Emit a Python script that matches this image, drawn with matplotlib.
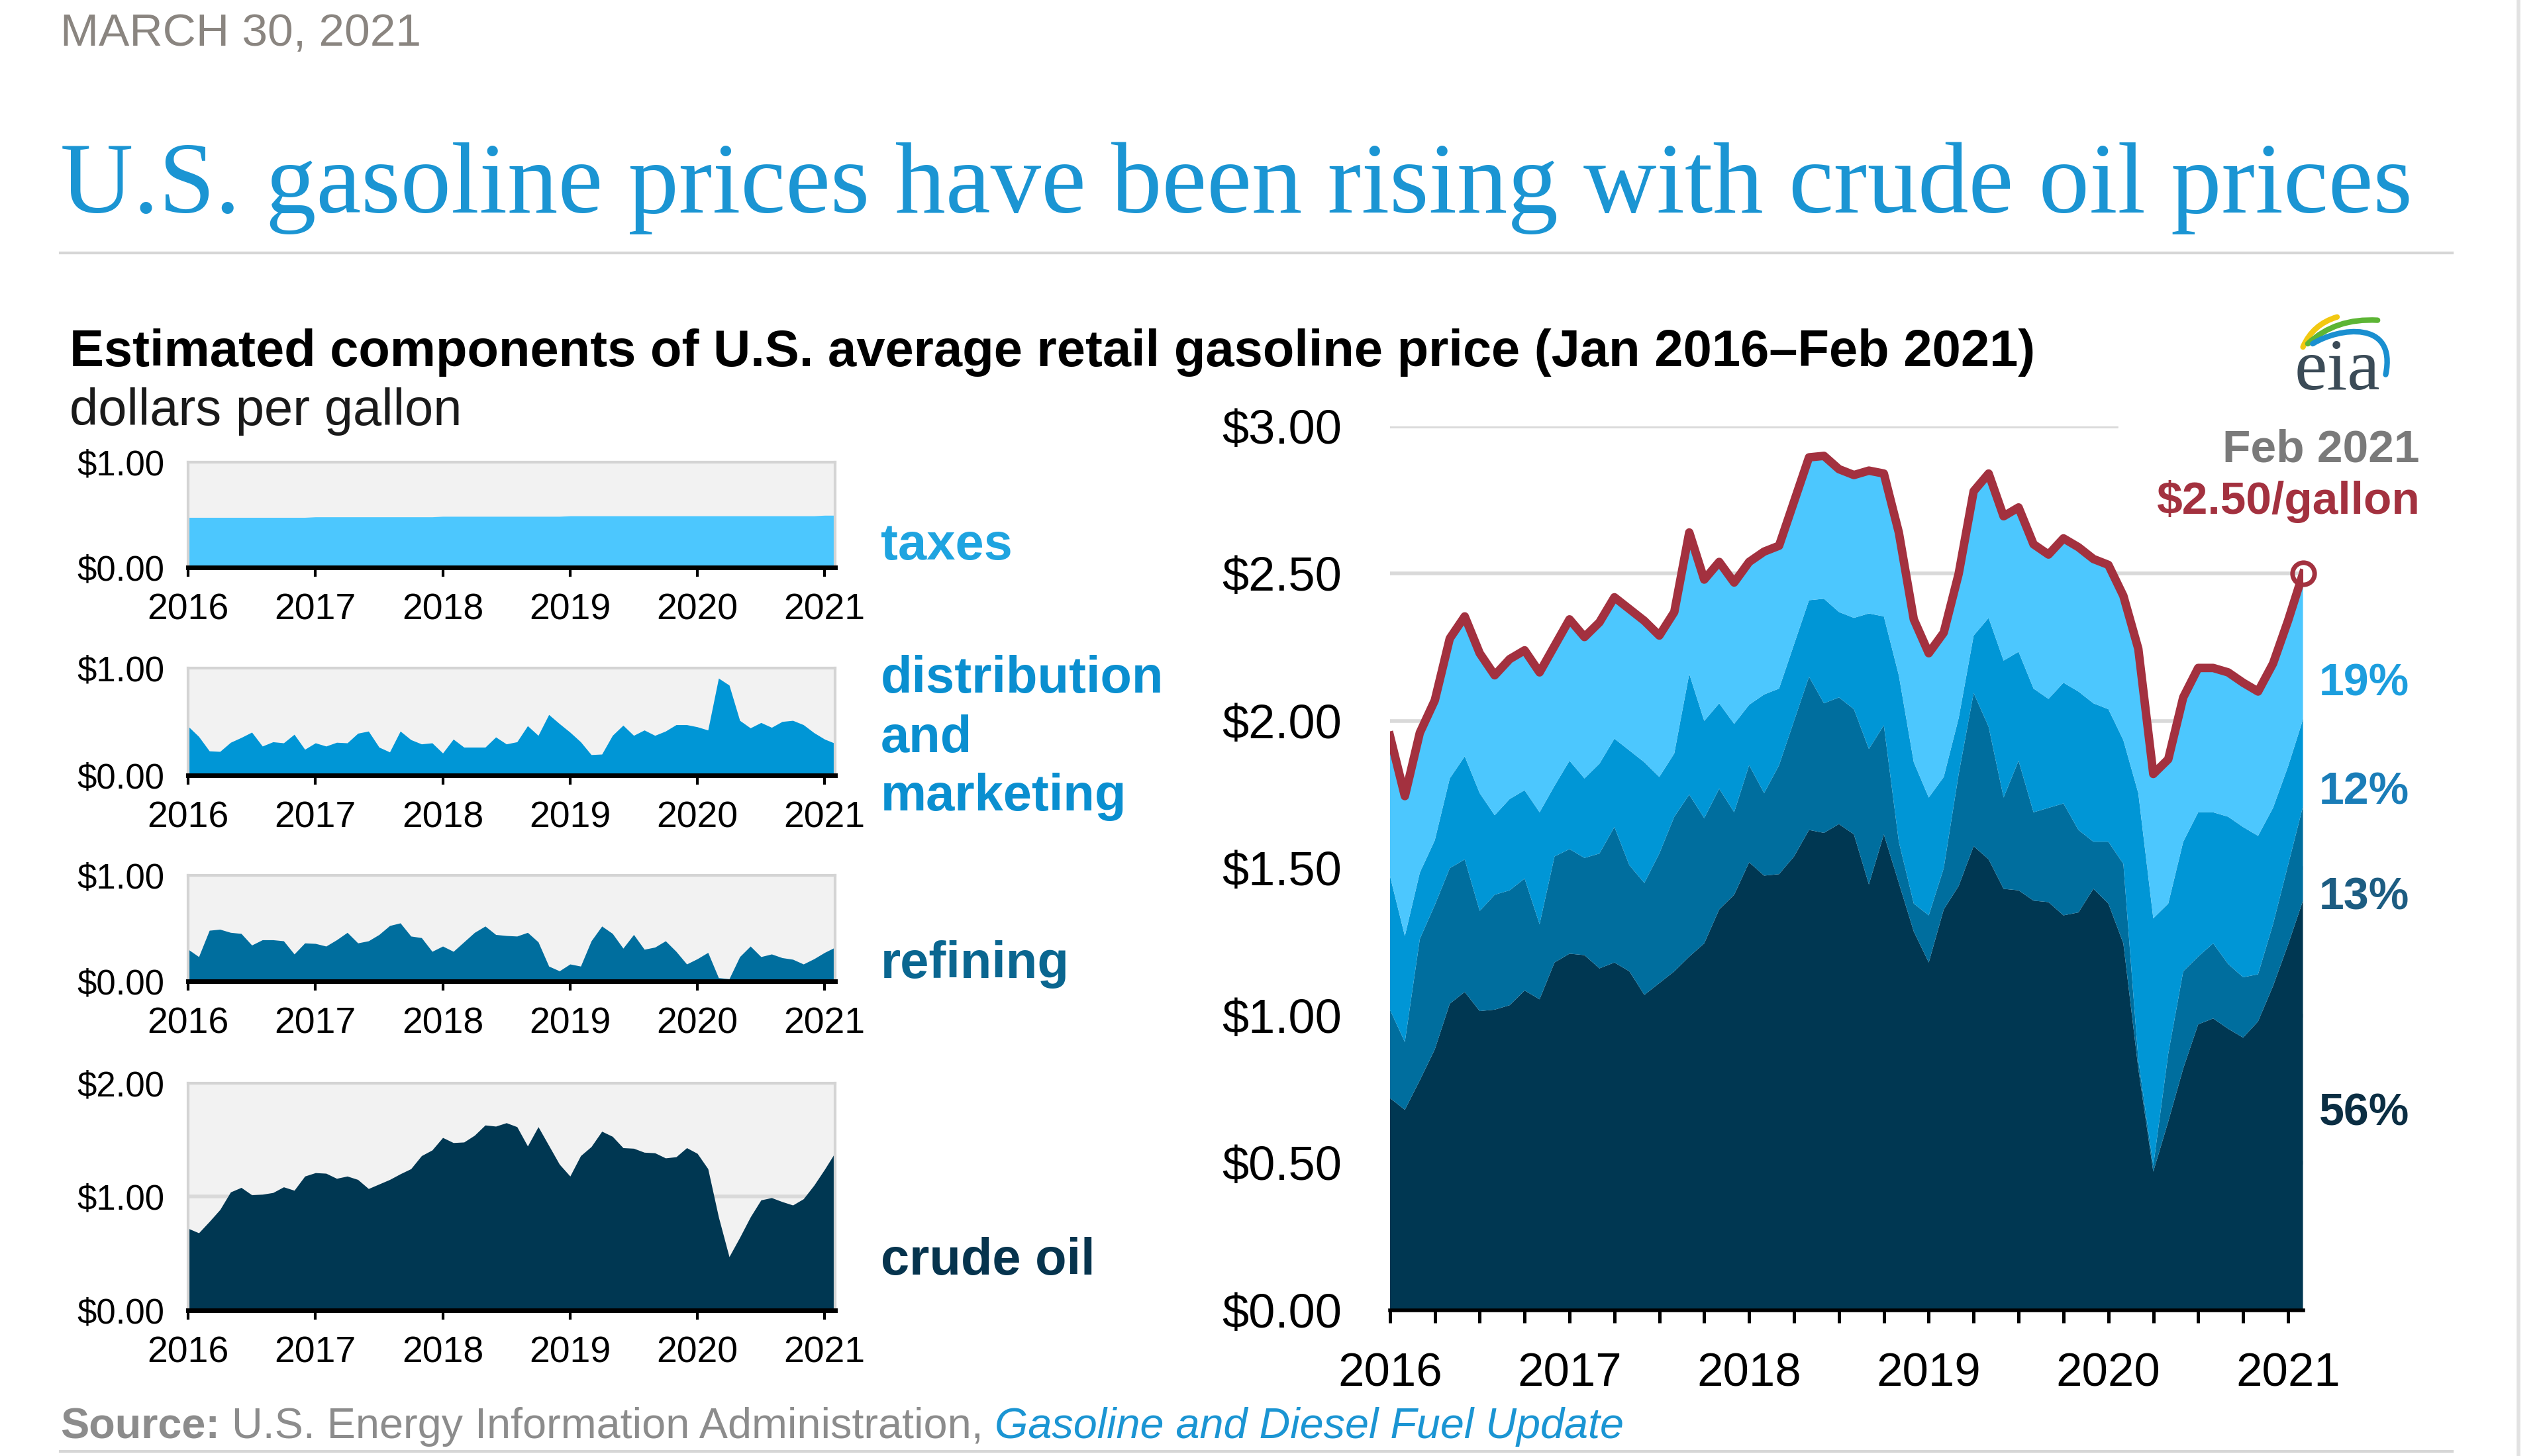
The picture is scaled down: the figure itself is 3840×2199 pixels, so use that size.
import numpy as np
import matplotlib.pyplot as plt
from matplotlib.path import Path
from matplotlib.patches import PathPatch

plt.rcParams['font.family'] = ['Liberation Sans', 'DejaVu Sans']
serif = ['Liberation Serif', 'DejaVu Serif']

# monthly components, Jan 2016 - Feb 2021 (dollars per gallon)
crude = [0.72, 0.68, 0.78, 0.885, 1.04, 1.08, 1.015, 1.02, 1.035, 1.085, 1.055, 1.18,
         1.21, 1.205, 1.16, 1.18, 1.15, 1.07, 1.11, 1.15, 1.20, 1.245, 1.36, 1.41,
         1.52, 1.475, 1.48, 1.54, 1.63, 1.62, 1.65, 1.615, 1.445, 1.615, 1.45, 1.285,
         1.18, 1.36, 1.44, 1.575, 1.53, 1.43, 1.425, 1.39, 1.385, 1.34, 1.35, 1.43,
         1.38, 1.245, 0.82, 0.47, 0.64, 0.82, 0.97, 0.99, 0.955, 0.925, 0.98, 1.10,
         1.24, 1.39]
refining = [0.30, 0.23, 0.48, 0.49, 0.46, 0.45, 0.34, 0.39, 0.39, 0.38, 0.255, 0.36,
            0.355, 0.33, 0.39, 0.46, 0.36, 0.38, 0.44, 0.525, 0.55, 0.425, 0.41, 0.28,
            0.33, 0.28, 0.37, 0.46, 0.52, 0.44, 0.43, 0.425, 0.46, 0.37, 0.14, 0.095,
            0.16, 0.14, 0.38, 0.52, 0.45, 0.31, 0.44, 0.30, 0.32, 0.38, 0.28, 0.16,
            0.21, 0.27, 0.03, 0.02, 0.23, 0.33, 0.23, 0.255, 0.22, 0.205, 0.16, 0.21,
            0.27, 0.32]
distribution = [0.455, 0.36, 0.225, 0.22, 0.305, 0.35, 0.40, 0.27, 0.31, 0.30, 0.38, 0.24,
                0.30, 0.27, 0.305, 0.30, 0.39, 0.41, 0.26, 0.215, 0.41, 0.33, 0.29, 0.30,
                0.205, 0.335, 0.26, 0.26, 0.26, 0.355, 0.29, 0.31, 0.46, 0.37, 0.565, 0.48,
                0.40, 0.31, 0.19, 0.195, 0.37, 0.465, 0.37, 0.42, 0.37, 0.41, 0.47, 0.47,
                0.45, 0.42, 0.905, 0.84, 0.51, 0.44, 0.49, 0.445, 0.50, 0.51, 0.47, 0.395,
                0.335, 0.295]
taxes = [0.475, 0.475, 0.475, 0.475, 0.475, 0.475, 0.475, 0.475, 0.475, 0.475, 0.475, 0.475,
         0.48, 0.48, 0.48, 0.48, 0.48, 0.48, 0.48, 0.48, 0.48, 0.48, 0.48, 0.48,
         0.485, 0.485, 0.485, 0.485, 0.485, 0.485, 0.485, 0.485, 0.485, 0.485, 0.485, 0.485,
         0.49, 0.49, 0.49, 0.49, 0.49, 0.49, 0.49, 0.49, 0.49, 0.49, 0.49, 0.49,
         0.49, 0.49, 0.49, 0.49, 0.49, 0.49, 0.49, 0.49, 0.49, 0.49, 0.49, 0.49,
         0.495, 0.495]
years = ['2016', '2017', '2018', '2019', '2020', '2021']
shares = ['19%', '12%', '13%', '56%']

c_tax, c_dist, c_ref, c_crude = '#4cc7fe', '#0096d6', '#006e9e', '#003752'
c_red = '#a3313f'

x = np.arange(len(crude))
total = np.array(crude) + np.array(refining) + np.array(distribution) + np.array(taxes)

fig = plt.figure(figsize=(19.2, 10.995), dpi=200)
W, H = 1568, 898


def fx(v):
    return v / W


def fy(v):
    return 1 - v / H


# decorations (rules, logo) on a full-figure overlay
deco = fig.add_axes([0, 0, 1, 1])
deco.set_xlim(0, W)
deco.set_ylim(H, 0)
deco.axis('off')
deco.plot([37, 1512], [156, 156], color='#d6d6d6', lw=1.5)
deco.plot([37, 1512], [895, 895], color='#d6d6d6', lw=1.5)
deco.plot([1553, 1553], [0, H], color='#e2e2e2', lw=2)

deco.text(1441, 240, 'eia', family=serif, fontsize=40, color='#3b4b57', ha='center', va='baseline')
arcs = [([(1420, 214), (1426, 200), (1441, 195.5)], [Path.MOVETO, Path.CURVE3, Path.CURVE3], '#f2c811'),
        ([(1423, 212), (1440, 196), (1466, 197.5)], [Path.MOVETO, Path.CURVE3, Path.CURVE3], '#5db535'),
        ([(1426, 212), (1442, 202), (1478, 197), (1471, 231)],
         [Path.MOVETO, Path.CURVE4, Path.CURVE4, Path.CURVE4], '#1a8fd0')]
for verts, codes, col in arcs:
    deco.add_patch(PathPatch(Path(verts, codes), fc='none', ec=col, lw=3, capstyle='round'))

# header texts
fig.text(fx(37), fy(28), 'MARCH 30, 2021', fontsize=25, color='#8a8580', va='baseline')
fig.text(fx(37), fy(131), 'U.S. gasoline prices have been rising with crude oil prices',
         family=serif, fontsize=55, color='#1b95d3', va='baseline')
fig.text(fx(43), fy(226), 'Estimated components of U.S. average retail gasoline price (Jan 2016\u2013Feb 2021)',
         fontsize=28, fontweight='bold', color='black', va='baseline')
fig.text(fx(43), fy(262), 'dollars per gallon', fontsize=28, color='#1a1a1a', va='baseline')


# small panels
def panel(top, bottom, vals, color, ymax):
    a = fig.add_axes([fx(116), fy(bottom), fx(515) - fx(116), fy(top) - fy(bottom)])
    a.set_facecolor('#f2f2f2')
    if ymax > 1:
        a.axhline(1, color='#d9d9d9', lw=2, zorder=0)
    a.fill_between(x, 0, vals, color=color, lw=0, zorder=2)
    a.set_xlim(0, len(x) - 1)
    a.set_ylim(0, ymax)
    for s in ['top', 'left', 'right']:
        a.spines[s].set_color('#d4d4d4')
        a.spines[s].set_linewidth(1.5)
    a.spines['bottom'].set_color('black')
    a.spines['bottom'].set_linewidth(2.5)
    a.spines['bottom'].set_zorder(3)
    a.set_xticks(np.arange(0, len(x), 12))
    a.set_xticklabels(years)
    yt = np.arange(0, ymax + 0.5, 1.0)
    a.set_yticks(yt)
    a.set_yticklabels(['${:.2f}'.format(v) for v in yt])
    a.tick_params(axis='x', length=5, width=1.5, pad=9, labelsize=20, color='black')
    a.tick_params(axis='y', length=0, pad=13, labelsize=19)
    return a


panel(285, 350, taxes, c_tax, 1)
panel(412, 478, distribution, c_dist, 1)
panel(540, 605, refining, c_ref, 1)
panel(668, 808, crude, c_crude, 2)

lab = dict(fontsize=28, fontweight='bold', va='baseline', ha='left')
fig.text(fx(543), fy(345), 'taxes', color='#1fa4e0', **lab)
fig.text(fx(543), fy(427), 'distribution', color='#0a8fd0', **lab)
fig.text(fx(543), fy(464), 'and', color='#0a8fd0', **lab)
fig.text(fx(543), fy(500), 'marketing', color='#0a8fd0', **lab)
fig.text(fx(543), fy(603), 'refining', color='#0a6690', **lab)
fig.text(fx(543), fy(786), 'crude oil', color='#06344e', **lab)

# main stacked chart
ax = fig.add_axes([fx(857), fy(808), fx(1420) - fx(857), fy(263) - fy(808)])
ax.patch.set_alpha(0)
for v in [0.5, 1.0, 1.5, 2.0, 2.5]:
    ax.axhline(v, color='#d9d9d9', lw=2, zorder=0)
ax.axhline(3.0, xmax=0.796, color='#d9d9d9', lw=2, zorder=0)
ax.stackplot(x, crude, refining, distribution, taxes,
             colors=[c_crude, c_ref, c_dist, c_tax], lw=0, zorder=1)
ax.plot(x, total, color=c_red, lw=4.6, solid_joinstyle='round', zorder=5)
ax.plot(x[-1:], total[-1:], 'o', mfc='none', mec=c_red, ms=12, mew=2.5, zorder=6, clip_on=False)
ax.set_xlim(0, len(x) - 1)
ax.set_ylim(0, 3)
for s in ['top', 'left', 'right']:
    ax.spines[s].set_visible(False)
ax.spines['bottom'].set_linewidth(2)
ax.spines['bottom'].set_zorder(7)
ax.set_xticks(np.arange(0, len(x), 12))
ax.set_xticklabels(years)
ax.set_xticks(np.arange(0, len(x), 3), minor=True)
ax.set_yticks(np.arange(0, 3.01, 0.5))
ax.set_yticklabels(['${:.2f}'.format(v) for v in np.arange(0, 3.01, 0.5)])
ax.tick_params(axis='x', which='both', length=7, width=1.8, color='black')
ax.tick_params(axis='x', which='major', pad=16, labelsize=25.5)
ax.tick_params(axis='y', length=0, pad=26, labelsize=26)

fig.text(fx(1492), fy(285), 'Feb 2021', fontsize=25, fontweight='bold', color='#7a7a7a',
         ha='right', va='baseline')
fig.text(fx(1492), fy(317), '$' + '{:.2f}'.format(total[-1]) + '/gallon', fontsize=25,
         fontweight='bold', color=c_red, ha='right', va='baseline')

share_cols = ['#1c9ede', '#1a7db8', '#1d5d82', '#0b2e43']
for txt, col, yb in zip(shares, share_cols, [429, 496, 561, 694]):
    fig.text(fx(1430), fy(yb), txt, fontsize=24.5, fontweight='bold', color=col, va='baseline')

# source line, pieces placed one after another
fig.canvas.draw()
r = fig.canvas.get_renderer()
xs = fx(37)
parts = [('Source:', dict(fontweight='bold', color='#8c8c8c')),
         (' U.S. Energy Information Administration, ', dict(color='#8c8c8c')),
         ('Gasoline and Diesel Fuel Update', dict(style='italic', color='#1b95d3'))]
for txt, kw in parts:
    t = fig.text(xs, fy(887), txt, fontsize=23.3, va='baseline', **kw)
    xs = t.get_window_extent(r).x1 / fig.bbox.width

fig.savefig('out.png', dpi=200)
